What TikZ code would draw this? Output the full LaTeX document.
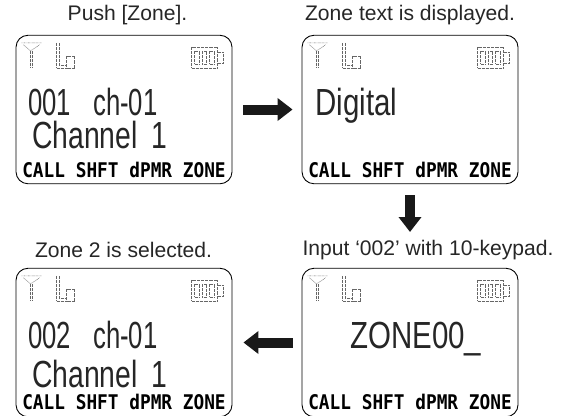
\documentclass[tikz,border=0pt]{standalone}
\usepackage{fontspec}
\setmainfont{Liberation Sans}
\newfontfamily\lcdkeys{DejaVu Sans Mono}
\usetikzlibrary{arrows.meta,positioning}
\definecolor{lcdgray}{gray}{0.4}
\tikzset{
  lcdbox/.style={draw, line width=0.5pt, rounded corners=0.24cm, minimum width=4.32cm, minimum height=2.97cm, inner sep=0pt},
  caption/.style={font=\fontsize{12}{14}\selectfont, text=black!85, inner sep=0pt},
  bigbase/.style={font=\fontsize{21.5}{24}\selectfont, anchor=base west, inner sep=0pt, text=black!85},
  bigtext/.style={bigbase, xscale=0.78},
  bigname/.style={bigbase, xscale=0.75},
  bignum/.style={bigbase, xscale=0.68},
  softkeys/.style={font=\fontsize{11.5}{13}\selectfont\lcdkeys\bfseries, anchor=base, inner sep=0pt, xscale=0.88},
  dotline/.style={draw=lcdgray, line width=0.3pt, dash pattern=on 0.35pt off 0.4pt},
  blockarrow/.style={line width=0.2cm, -{Triangle[length=0.3cm,width=0.44cm]}, black!90}
}
\begin{document}
\begin{tikzpicture}
\useasboundingbox (0,0) rectangle (11.3,8.3);

\node[lcdbox] (push) at (2.48,6.11) {};
\node[lcdbox] (text) at (8.2,6.11) {};
\node[lcdbox] (input) at (8.2,1.45) {};
\node[lcdbox] (selected) at (2.48,1.45) {};

\node[caption] (pushcap) at (2.55,8) {Push [Zone].};
\node[caption] (textcap) at (8.2,8) {Zone text is displayed.};
\node[caption] (inputcap) at (8.56,3.3) {Input `002' with 10-keypad.};
\node[caption] (selectedcap) at (2.47,3.3) {Zone 2 is selected.};

% status icons
\foreach \scr in {push,text,input,selected} {
  \begin{scope}[shift={(\scr.north west)}]
    \draw[dotline] (0.12,-0.16) -- (0.52,-0.16) (0.16,-0.2) -- (0.3,-0.32) -- (0.48,-0.2);
    \draw[dotline] (0.29,-0.32) -- (0.29,-0.64) (0.34,-0.32) -- (0.34,-0.64);
    \draw[dotline] (0.82,-0.16) -- (0.82,-0.66) -- (1.0,-0.66);
    \draw[dotline] (0.87,-0.16) -- (0.87,-0.6) -- (1.0,-0.6);
    \draw[dotline] (1.02,-0.42) rectangle (1.18,-0.66);
    \draw[dotline] (3.52,-0.24) rectangle (4.04,-0.66);
    \draw[dotline] (4.04,-0.34) -- (4.16,-0.34) -- (4.16,-0.56) -- (4.04,-0.56);
    \foreach \x in {3.58,3.73,3.88} \draw[dotline] (\x,-0.32) rectangle ++(0.09,-0.26);
  \end{scope}
}

\node[bignum] (pushnum) at (0.56,6) {001\hspace{0.65cm}ch-01};
\node[bigname] (pushname) at (0.64,5.34) {Channel\hspace{0.36cm}1};
\node[bigtext] (digital) at (6.3,6) {Digital};
\node[bigtext] (zone) at (7,1.34) {ZONE00\_};
\node[bignum] (selnum) at (0.56,1.34) {002\hspace{0.65cm}ch-01};
\node[bigname] (selname) at (0.64,0.56) {Channel\hspace{0.36cm}1};

\node[softkeys] (pushkeys) at (2.48,4.76) {CALL SHFT dPMR ZONE};
\node[softkeys] (textkeys) at (8.2,4.76) {CALL SHFT dPMR ZONE};
\node[softkeys] (inputkeys) at (8.2,0.12) {CALL SHFT dPMR ZONE};
\node[softkeys] (selkeys) at (2.48,0.12) {CALL SHFT dPMR ZONE};

\coordinate (downend) at (8.2,3.66);
\draw[blockarrow, shorten <=0.22cm, shorten >=0.18cm] (push) -- (text);
\draw[blockarrow, shorten <=0.22cm] (text) -- (downend);
\draw[blockarrow, shorten <=0.18cm, shorten >=0.22cm] (input) -- (selected);
\end{tikzpicture}
\end{document}
